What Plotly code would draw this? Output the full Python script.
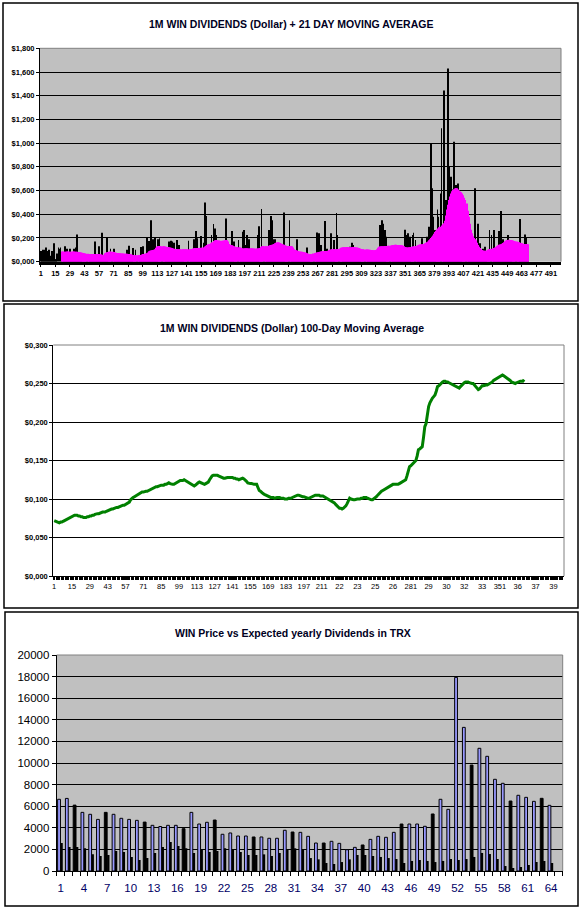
import plotly.graph_objects as go

# ---------- chart 1 : daily dividends per 1M WIN + 21 day moving average ----------
daily = [
    .09, .08, .10, .06, .10, .12, .09, .07, .10, .05,
    .03, .09, .08, .155, .02, .02, .07, .12, .11, .12,
    .07, .06, .08, .13, .05, .11, .07, .06, .11, .05,
    .06, .07, .11, .05, .12, .23, .06, .05, .07, .04,
    .05, .06, .04, .05, .06, .04, .05, .03, .05, .04,
    .05, .04, .17, .05, .04, .03, .13, .05, .04, .245,
    .03, .04, .05, .06, .20, .05, .06, .11, .05, .07,
    .11, .05, .06, .04, .05, .06, .05, .04, .06, .05,
    .04, .05, .06, .10, .04, .135, .05, .04, .03, .115,
    .04, .10, .03, .04, .05, .04, .125, .05, .13, .04,
    .05, .06, .205, .07, .175, .06, .35, .08, .19, .07,
    .205, .08, .10, .19, .197, .09, .10, .11, .09, .10,
    .09, .10, .08, .17, .09, .177, .17, .09, .16, .08,
    .09, .183, .07, .14, .08, .07, .09, .08, .07, .08,
    .09, .07, .177, .08, .09, .07, .08, .19, .09, .26,
    .197, .08, .09, .07, .217, .09, .08, .16, .50, .385,
    .10, .12, .09, .11, .225, .13, .318, .28, .225, .14,
    .13, .15, .12, .14, .13, .12, .15, .13, .365, .14,
    .13, .11, .10, .12, .26, .09, .17, .10, .08, .09,
    .183, .09, .08, .10, .253, .267, .08, .14, .225, .09,
    .19, .08, .09, .07, .08, .09, .08, .07, .09, .225,
    .30, .09, .444, .10, .09, .08, .10, .09, .08, .267,
    .183, .385, .35, .19, .11, .19, .12, .10, .11, .12,
    .10, .11, .09, .10, .416, .09, .10, .08, .09, .35,
    .09, .10, .08, .07, .06, .08, .19, .06, .05, .07,
    .06, .05, .06, .05, .04, .06, .12, .05, .04, .05,
    .04, .03, .05, .04, .06, .247, .05, .24, .06, .14,
    .06, .07, .05, .343, .06, .11, .07, .06, .08, .24,
    .07, .08, .183, .07, .41, .225, .08, .09, .08, .09,
    .08, .10, .09, .08, .09, .10, .08, .127, .09, .16,
    .14, .09, .08, .10, .09, .08, .09, .07, .08, .07,
    .08, .07, .06, .08, .07, .06, .07, .08, .06, .07,
    .06, .07, .08, .07, .09, .11, .31, .10, .35, .32,
    .10, .267, .21, .09, .10, .11, .10, .09, .11, .10,
    .11, .10, .09, .11, .10, .12, .10, .09, .11, .10,
    .27, .225, .09, .24, .10, .21, .09, .225, .245, .10,
    .183, .11, .10, .12, .11, .12, .197, .12, .11, .13,
    .12, .21, .14, .295, .16, 1.00, .62, .38, .17, .267,
    .20, .44, .38, .22, .576, 1.125, .26, 1.443, .44, .52,
    .35, 1.63, .80, .45, .717, .61, .50, 1.012, .52, .647,
    .55, .66, .50, .48, .52, .47, .45, .44, .42, .40,
    .35, .30, .26, .21, .19, .17, .15, .62, .14, .13,
    .32, .10, .155, .09, .08, .11, .07, .127, .08, .07,
    .08, .267, .09, .225, .09, .267, .10, .09, .11, .10,
    .26, .12, .427, .11, .19, .12, .13, .14, .15, .225,
    .15, .14, .16, .15, .13, .14, .12, .13, .12, .11,
    .36, .12, .11, .12, .11, .23, .205, .11, .10,
]

ma21_start = 21
ma21 = [
    .085, .085, .084, .084, .084, .085, .085, .084, .084, .084,
    .084, .085, .085, .084, .084, .083, .082, .081, .079, .078,
    .076, .074, .072, .070, .068, .067, .066, .065, .065, .064,
    .064, .064, .063, .063, .064, .064, .063, .062, .060, .058,
    .056, .058, .072, .076, .080, .082, .084, .085, .084, .083,
    .082, .078, .075, .074, .073, .072, .071, .070, .070, .069,
    .068, .068, .067, .067, .066, .066, .065, .063, .058, .056,
    .056, .055, .055, .055, .056, .056, .057, .060, .064, .066,
    .068, .070, .072, .078, .088, .092, .094, .096, .098, .100,
    .105, .118, .128, .130, .132, .132, .131, .130, .130, .128,
    .126, .125, .124, .122, .120, .118, .115, .112, .110, .108,
    .107, .106, .105, .104, .104, .103, .103, .104, .104, .104,
    .104, .104, .104, .105, .106, .108, .112, .114, .115, .116,
    .116, .116, .115, .116, .117, .118, .118, .120, .128, .135,
    .140, .145, .148, .150, .155, .165, .175, .180, .182, .181,
    .179, .178, .176, .175, .176, .177, .178, .180, .182, .180,
    .170, .150, .142, .140, .138, .135, .130, .126, .125, .124,
    .122, .120, .118, .114, .112, .112, .113, .114, .113, .112,
    .112, .112, .113, .114, .112, .111, .110, .110, .111, .112,
    .113, .116, .125, .130, .132, .131, .130, .128, .130, .134,
    .138, .140, .142, .145, .150, .156, .160, .163, .164, .162,
    .158, .154, .150, .146, .142, .138, .135, .133, .132, .132,
    .132, .130, .120, .105, .098, .096, .094, .090, .087, .085,
    .084, .083, .082, .080, .078, .075, .072, .068, .066, .064,
    .063, .062, .070, .074, .076, .078, .080, .082, .084, .086,
    .088, .088, .089, .090, .090, .091, .092, .096, .100, .103,
    .104, .104, .105, .104, .104, .106, .108, .112, .118, .120,
    .121, .121, .122, .122, .123, .122, .122, .121, .121, .122,
    .123, .122, .121, .120, .120, .118, .116, .112, .108, .105,
    .104, .103, .103, .102, .102, .101, .100, .099, .098, .097,
    .096, .096, .098, .105, .118, .126, .128, .130, .130, .131,
    .131, .132, .132, .133, .134, .135, .136, .138, .140, .141,
    .142, .142, .141, .140, .140, .140, .139, .138, .135, .130,
    .124, .121, .120, .120, .121, .122, .124, .126, .128, .130,
    .132, .135, .138, .142, .145, .146, .147, .148, .150, .155,
    .160, .165, .170, .180, .190, .200, .210, .220, .235, .250,
    .262, .272, .280, .290, .295, .305, .315, .325, .345, .390,
    .440, .480, .520, .550, .575, .595, .605, .612, .618, .622,
    .620, .610, .600, .592, .585, .575, .560, .540, .520, .490,
    .430, .380, .320, .270, .240, .215, .200, .190, .180, .160,
    .140, .127, .115, .105, .098, .095, .093, .092, .093, .095,
    .100, .105, .108, .110, .112, .115, .120, .125, .132, .138,
    .142, .145, .148, .152, .158, .165, .172, .178, .182, .184,
    .185, .184, .182, .180, .178, .175, .172, .170, .166, .164,
    .160, .158, .156, .152, .150, .150, .150, .148, .148,
]

c1_xticks = [1, 15, 29, 43, 57, 71, 85, 99, 113, 127, 141, 155, 169, 183, 197, 211, 225, 239,
             253, 267, 281, 295, 309, 323, 337, 351, 365, 379, 393, 407, 421, 435, 449, 463, 477, 491]
c1_yticks = [0, .2, .4, .6, .8, 1.0, 1.2, 1.4, 1.6, 1.8]
c1_ylabels = ["$0,000", "$0,200", "$0,400", "$0,600", "$0,800", "$1,000", "$1,200", "$1,400", "$1,600", "$1,800"]

# ---------- chart 2 : 100 day moving average ----------
ma100 = [
    .072, .071, .070, .069, .069, .070, .070, .071, .072, .073,
    .073, .074, .075, .076, .077, .078, .079, .079, .079, .078,
    .078, .077, .077, .076, .076, .076, .077, .077, .078, .078,
    .079, .079, .080, .081, .081, .081, .082, .082, .083, .083,
    .083, .084, .085, .085, .086, .087, .087, .088, .088, .089,
    .089, .090, .091, .091, .092, .092, .093, .093, .094, .096,
    .099, .101, .102, .103, .104, .106, .107, .108, .108, .109,
    .109, .110, .110, .110, .111, .111, .112, .113, .114, .115,
    .116, .116, .117, .117, .118, .118, .118, .119, .119, .120,
    .121, .120, .119, .119, .119, .120, .122, .123, .123, .124,
    .124, .124, .125, .124, .123, .122, .121, .119, .118, .117,
    .117, .118, .120, .121, .122, .121, .120, .119, .119, .120,
    .121, .122, .125, .128, .130, .131, .131, .131, .131, .130,
    .129, .128, .128, .127, .127, .128, .128, .128, .128, .128,
    .128, .127, .127, .126, .126, .125, .126, .127, .127, .126,
    .125, .123, .121, .120, .120, .120, .119, .119, .119, .119,
    .115, .111, .110, .108, .107, .106, .105, .104, .103, .103,
    .102, .102, .102, .101, .102, .102, .102, .102, .101, .101,
    .101, .100, .100, .100, .101, .101, .101, .102, .103, .104,
    .105, .105, .105, .104, .103, .103, .103, .102, .102, .101,
    .101, .102, .103, .104, .105, .105, .105, .105, .105, .104,
    .104, .104, .103, .102, .101, .100, .099, .099, .098, .096,
    .095, .093, .091, .089, .088, .088, .087, .088, .089, .091,
    .094, .097, .101, .100, .099, .099, .099, .100, .100, .100,
    .100, .101, .101, .102, .102, .102, .101, .100, .099, .099,
    .099, .100, .101, .103, .105, .107, .108, .110, .111, .112,
    .113, .114, .116, .117, .118, .119, .119, .119, .119, .119,
    .119, .120, .121, .122, .123, .124, .125, .130, .136, .142,
    .143, .145, .147, .148, .150, .156, .164, .165, .167, .168,
    .180, .194, .198, .210, .220, .225, .229, .231, .233, .235,
    .240, .246, .247, .249, .251, .252, .253, .253, .252, .252,
    .251, .250, .249, .248, .247, .246, .245, .244, .244, .246,
    .248, .250, .251, .252, .252, .252, .251, .250, .250, .250,
    .248, .246, .244, .242, .243, .245, .247, .247, .248, .248,
    .248, .249, .249, .250, .252, .254, .255, .256, .257, .258,
    .259, .260, .261, .260, .259, .258, .257, .256, .254, .252,
    .251, .250, .250, .251, .252, .252, .253, .253, .253, .255,
]

c2_xticks = [1, 15, 29, 43, 57, 71, 85, 99, 113, 127, 141, 155, 169, 183, 197, 211, 225, 239,
             253, 267, 281, 295, 309, 323, 337, 351, 365, 379, 393]
c2_xlabels = ["1", "15", "29", "43", "57", "71", "85", "99", "113", "127", "141", "155", "169", "183",
              "197", "211", "22", "23", "25", "26", "281", "29", "30", "32", "33", "351", "36", "37", "39"]
c2_yticks = [0, .05, .10, .15, .20, .25, .30]
c2_ylabels = ["$0,000", "$0,050", "$0,100", "$0,150", "$0,200", "$0,250", "$0,300"]

# ---------- chart 3 : WIN price vs expected yearly dividends in TRX ----------
weeks = list(range(1, 65))
win_price = [
    6640, 6720, 6100, 5430, 5250, 4780, 5430, 5250, 4880, 4780,
    4690, 4530, 4230, 4120, 4230, 4230, 3920, 5430, 4350, 4510,
    4720, 3400, 3520, 3240, 3240, 3150, 3150, 3030, 3030, 3770,
    3610, 3580, 3210, 2590, 2590, 2750, 2560, 1970, 2190, 2410,
    2930, 3210, 3120, 3580, 4350, 4350, 4350, 4140, 5280, 6640,
    5710, 17930, 13300, 9810, 11360, 10620, 8490, 8120, 6480, 7010,
    6820, 6450, 6730, 6080,
]
yearly_div = [
    2590, 2220, 2220, 2100, 1540, 1390, 1480, 1850, 1760, 1290,
    1020, 1200, 1670, 2220, 2680, 2310, 2100, 1670, 1970, 1760,
    1850, 2100, 1970, 1760, 1480, 1480, 1540, 1390, 1670, 1970,
    2100, 1970, 1200, 1080, 740, 650, 830, 1080, 1480, 1480,
    1390, 1300, 1200, 1110, 740, 930, 1020, 930, 830, 930,
    1110, 1020, 1110, 1300, 1670, 1570, 1110, 460, 280, 370,
    560, 830, 930, 740,
]
c3_xticks = [1, 4, 7, 10, 13, 16, 19, 22, 25, 28, 31, 34, 37, 40, 43, 46, 49, 52, 55, 58, 61, 64]
c3_yticks = [0, 2000, 4000, 6000, 8000, 10000, 12000, 14000, 16000, 18000, 20000]
c3_ylabels = ["0", "2000", "4000", "6000", "8000", "10000", "12000", "14000", "16000", "18000", "20000"]

# first-series columns that render solid black in the original picture
dark_cols = [3, 7, 12, 17, 21, 26, 31, 35, 40, 45, 49, 54, 59, 63]
price_colors = ["black" if w in dark_cols else "#9999FF" for w in weeks]

W, H = 581, 909
FONT = "Liberation Sans, Arial, sans-serif"


def px(x):
    return x / W


def py(y):
    return 1 - y / H


days1 = list(range(1, len(daily) + 1))
days_ma = list(range(ma21_start, ma21_start + len(ma21)))
days2 = list(range(1, len(ma100) + 1))

fig = go.Figure()
fig.add_trace(go.Bar(x=days1, y=daily, marker=dict(color="black", line=dict(width=0)),
                     width=0.8, xaxis="x", yaxis="y", name="daily"))
fig.add_trace(go.Bar(x=days_ma, y=ma21, marker=dict(color="#FF00FF", line=dict(width=0)),
                     width=1.05, xaxis="x", yaxis="y", name="21 day MA"))
fig.add_trace(go.Scatter(x=days2, y=ma100, mode="lines", line=dict(color="#008000", width=3),
                         xaxis="x2", yaxis="y2", name="100 day MA"))
fig.add_trace(go.Bar(x=weeks, y=win_price, width=0.36, offset=-0.38,
                     marker=dict(color=price_colors, line=dict(color="black", width=1)),
                     xaxis="x3", yaxis="y3", name="price"))
fig.add_trace(go.Bar(x=weeks, y=yearly_div, width=0.3, offset=-0.02,
                     marker=dict(color="black", line=dict(width=0)),
                     xaxis="x3", yaxis="y3", name="dividends"))

small = dict(family=FONT, size=7.5, color="black", weight="bold")

fig.update_layout(
    width=W, height=H, margin=dict(l=0, r=0, t=0, b=0),
    paper_bgcolor="white", plot_bgcolor="rgba(0,0,0,0)",
    barmode="overlay", showlegend=False, font=dict(family=FONT),
    xaxis=dict(domain=[px(40), px(561)], anchor="y", range=[0.3, 500.7], automargin=False,
               tickmode="array", tickvals=c1_xticks, ticks="outside", ticklen=3, tickcolor="black",
               showline=True, linecolor="black", linewidth=2.5, showgrid=False, zeroline=False,
               tickfont=small, tickangle=0),
    yaxis=dict(domain=[py(261.7), py(48.3)], anchor="x", range=[0, 1.8], automargin=False,
               tickmode="array", tickvals=c1_yticks, ticktext=c1_ylabels,
               ticks="outside", ticklen=3, tickcolor="black",
               showline=True, linecolor="black", linewidth=1,
               showgrid=True, gridcolor="black", gridwidth=1, zeroline=False, tickfont=small),
    xaxis2=dict(domain=[px(53.3), px(564)], anchor="y2", range=[0.3, 401.3], automargin=False,
                tickmode="array", tickvals=c2_xticks, ticktext=c2_xlabels, ticks="outside", ticklen=3,
                tickcolor="black", minor=dict(dtick=1, tick0=0.5, ticks="outside", ticklen=3,
                                              tickcolor="black", tickwidth=1),
                showline=True, linecolor="black", linewidth=1, showgrid=False, zeroline=False,
                tickfont=dict(family=FONT, size=7.5, color="black"), tickangle=0),
    yaxis2=dict(domain=[py(576), py(345)], anchor="x2", range=[0, 0.3], automargin=False,
                tickmode="array", tickvals=c2_yticks, ticktext=c2_ylabels,
                ticks="outside", ticklen=3, tickcolor="black",
                showline=True, linecolor="black", linewidth=1,
                showgrid=True, gridcolor="black", gridwidth=1, zeroline=False, tickfont=small),
    xaxis3=dict(domain=[px(56.7), px(562.7)], anchor="y3", range=[0.5, 65.5], automargin=False,
                tickmode="array", tickvals=c3_xticks, ticks="", ticklabelstandoff=6,
                minor=dict(dtick=1, tick0=0.5, ticks="outside", ticklen=4, tickcolor="black", tickwidth=1),
                showline=True, linecolor="black", linewidth=1, showgrid=False, zeroline=False,
                tickfont=dict(family=FONT, size=11.5, color="#000066"), tickangle=0),
    yaxis3=dict(domain=[py(871), py(655)], anchor="x3", range=[0, 20000], automargin=False,
                tickmode="array", tickvals=c3_yticks, ticktext=c3_ylabels,
                ticks="outside", ticklen=4, tickcolor="black",
                showline=True, linecolor="black", linewidth=1,
                showgrid=True, gridcolor="black", gridwidth=1, zeroline=False,
                tickfont=dict(family=FONT, size=11.5, color="black")),
)

shapes = []
# chart frames
for x0, y0, x1, y1 in [(3, 3, 578, 301), (4, 304, 578, 608), (5, 612, 578, 906)]:
    shapes.append(dict(type="rect", xref="paper", yref="paper", x0=px(x0), x1=px(x1), y0=py(y1), y1=py(y0),
                       line=dict(color="black", width=1.5), fillcolor="white", layer="below"))
# grey plot areas for chart 1 and 3
for xa in ["x", "x3"]:
    ya = xa.replace("x", "y")
    shapes.append(dict(type="rect", xref=xa + " domain", yref=ya + " domain", x0=0, x1=1, y0=0, y1=1,
                       line=dict(width=0), fillcolor="#C0C0C0", layer="below"))
# grey frame (top and right) on all plot areas
for xa in ["x", "x2", "x3"]:
    ya = xa.replace("x", "y")
    shapes.append(dict(type="path", xref=xa + " domain", yref=ya + " domain",
                       path="M 0 1 L 1 1 L 1 0", line=dict(color="#808080", width=1), layer="above"))
fig.update_layout(shapes=shapes)

title_font = dict(family=FONT, size=10.5, color="#000022", weight="bold")
for text, x, y in [("1M WIN DIVIDENDS (Dollar) + 21 DAY MOVING AVERAGE", 291, 24),
                   ("1M WIN DIVIDENDS (Dollar) 100-Day Moving Average", 292, 328),
                   ("WIN Price vs Expected yearly Dividends in TRX", 293, 633)]:
    fig.add_annotation(text=text, x=px(x), y=py(y), xref="paper", yref="paper",
                       showarrow=False, font=title_font, xanchor="center", yanchor="middle")

# the page's default body margin would push the figure 8px down and right
fig.write_html("out.html", config={"displayModeBar": False},
               post_script="document.body.style.margin='0';document.body.style.overflow='hidden';")
